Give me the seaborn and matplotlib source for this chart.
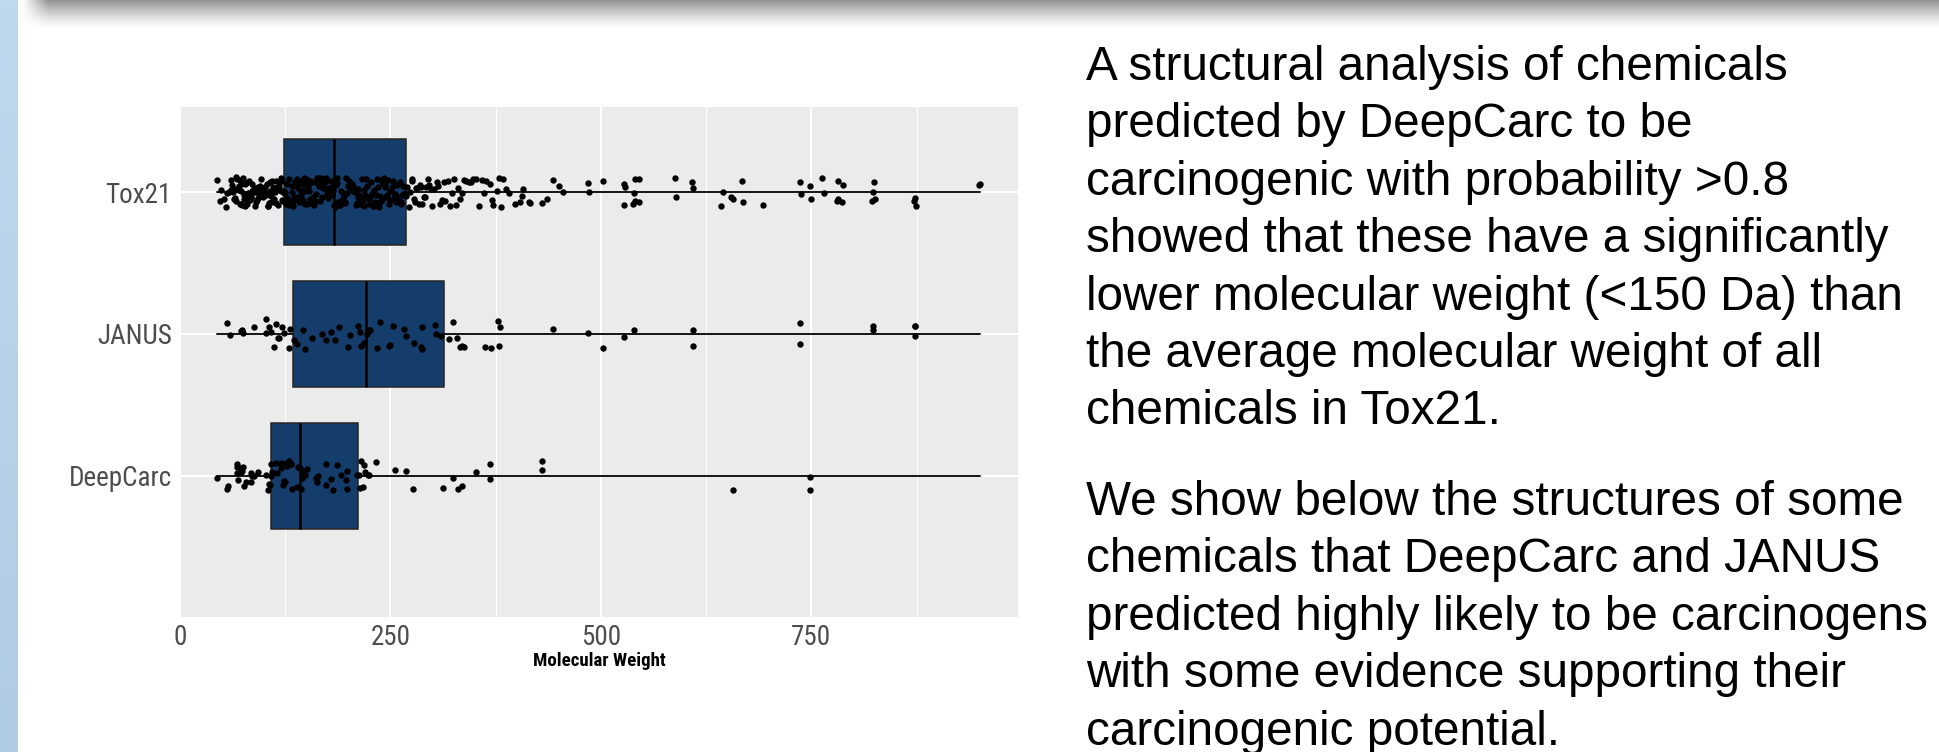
import numpy as np
import pandas as pd
import matplotlib
matplotlib.use("Agg")
import matplotlib.pyplot as plt
from matplotlib import font_manager as fm
from matplotlib.ticker import FixedLocator
import seaborn as sns

# ---------------- data ----------------
groups = ["Tox21", "JANUS", "DeepCarc"]
x_ticks = [0, 250, 500, 750]
x_minor = [125, 375, 625, 875]
x_label = "Molecular Weight"

tox21_mw = [
    43.5, 47, 49, 52, 55, 56, 58, 60.5, 62, 63, 65, 66.5, 67, 68, 69.5, 71, 72, 72.5, 74, 75,
    76, 77, 77.5, 79, 80, 81.5, 82, 83, 84, 85, 86, 86.5, 88, 89, 90, 90.5, 92, 93, 94, 95.5,
    96, 97, 98, 99, 99.5, 64, 70, 73, 78, 81, 87, 91, 94.5, 97.5,
    61, 66, 71.5, 76.5, 80.5, 84.5, 88.5, 92.5, 96.5,
    101, 102, 103.5, 104, 105, 106, 107, 108.5, 109, 110, 111, 112, 113, 114, 115, 116.5, 117,
    118, 119, 120, 121, 122, 123, 124, 125.5, 126, 127, 128, 129, 130, 131, 132.5, 133, 134,
    136, 137, 138, 139, 140, 141, 142, 143.5, 144, 145, 146, 147, 148, 149, 150,
    103, 108, 111.5, 116, 121.5, 127.5, 135, 140.5, 146.5,
    101.5, 106.5, 110.5, 114.5, 119.5, 124.5, 129.5, 134.5, 138.5, 144.5, 148.5,
    151, 152, 153.5, 155, 156, 157, 158, 160, 161, 162, 163, 165, 166, 167, 168, 170, 171, 172,
    174, 175, 176, 178, 179, 180, 181, 183, 184, 185, 187, 188, 189, 191, 192, 193, 195, 196,
    197, 199, 200, 154, 159, 164, 169, 173, 177, 182, 186, 194, 198,
    152.5, 157.5, 162.5, 167.5, 172.5, 178.5, 184.5, 190, 196.5,
    201, 202, 204, 205, 206, 208, 209, 211, 212, 213, 215, 216, 217, 219, 220, 222, 223, 224,
    226, 227, 229, 230, 231, 233, 234, 236, 237, 238, 240, 241, 243, 244, 246, 247, 248, 250,
    251, 253, 254, 256, 257, 258, 260, 261, 263, 264, 265, 267, 268,
    203, 210, 218, 225, 232, 239, 245, 252, 259, 266,
    207, 214, 221, 228, 235, 242, 249, 255, 262, 267.5,
    270, 272, 275, 276, 278, 280, 282, 284, 286, 288, 290, 292, 294, 296, 299, 302, 305, 306,
    309, 313, 315, 318, 321, 323, 326, 328, 330, 333, 335, 337, 340, 343, 346, 348, 351, 355,
    359, 361, 363, 368, 370, 372, 377, 379, 381, 384, 387, 391, 398, 404, 406, 408, 414, 416,
    430, 436, 443, 450, 455, 273, 279, 285, 291, 298, 311,
    485, 486, 503, 527, 527, 529, 538, 539, 540, 541, 545, 545, 588, 589, 608, 609, 643, 645,
    655, 657, 668, 669, 692, 736, 738, 748, 749, 763, 765, 780, 781, 782, 786, 787, 822, 823,
    824, 825, 872, 873, 874, 949, 950,
]
janus_mw = [
    56, 59, 72, 74, 75, 87.5, 102, 102.5, 106, 108, 112, 114, 116, 117.5, 121.5, 123.5, 129,
    131, 136, 139, 146, 148, 157, 169, 173, 179, 184, 189, 199, 202, 212, 214, 215, 218, 222,
    224, 225.5, 234, 238, 248, 250, 253, 266, 268, 278, 286, 287.5, 287.5, 303, 304, 310, 319,
    324, 329, 332, 335, 337, 362, 369, 378, 378.5, 380, 443, 485, 503, 527, 539.5, 609, 609,
    737, 737, 823.5, 823.5, 872.6, 872.6, 872.6,
]
deepcarc_mw = [
    43.5, 55.4, 57, 67.3, 67.5, 68, 68.9, 72, 72.8, 74, 75.1, 75.9, 77.9, 83.9, 84.7, 85.9,
    87.9, 92.6, 101.7, 104.4, 105.6, 106.8, 107.6, 108.4, 109.6, 113.6, 115.5, 119.5, 120.3,
    122.7, 123.5, 124.7, 125.4, 127.4, 129.4, 131.4, 132.2, 133.3, 139.3, 140.5, 142.9, 143.7,
    144.9, 146.1, 148.9, 150.8, 161, 163, 164.2, 172.9, 173.7, 178.8, 182, 186, 191.5, 196.6,
    197.8, 198.6, 210.5, 212.4, 213.6, 215.2, 216.8, 218.3, 219.5, 223.1, 224.7, 233, 255.9,
    268.2, 276.9, 312.1, 323.9, 329.9, 335, 351.7, 367.8, 367.8, 430, 430, 656.6, 748.3, 748.3,
]

# box summaries as drawn in the reference (Tox21, JANUS, DeepCarc)
box_q1 = [123, 133.7, 108.4]
box_med = [182.8, 220.7, 142.4]
box_q3 = [268, 314, 212]
whisk_lo = [43.5, 43.5, 43.5]
whisk_hi = [950, 950, 950]

para1 = [
    "A structural analysis of chemicals",
    "predicted by DeepCarc to be",
    "carcinogenic with probability >0.8",
    "showed that these have a significantly",
    "lower molecular weight (<150 Da) than",
    "the average molecular weight of all",
    "chemicals in Tox21.",
]
para2 = [
    "We show below the structures of some",
    "chemicals that DeepCarc and JANUS",
    "predicted highly likely to be carcinogens",
    "with some evidence supporting their",
    "carcinogenic potential.",
]

# ---------------- style / fonts ----------------
sns.set_theme(style="white")
names = {f.name for f in fm.fontManager.ttflist}


def pick(*cands):
    for c in cands:
        if c in names:
            return c
    return "DejaVu Sans"


body = pick("Liberation Sans", "Arial", "DejaVu Sans")
narrow = pick("Liberation Sans Narrow", "Roboto Condensed", body)
is_narrow = narrow != body
plt.rcParams["font.family"] = [body, "DejaVu Sans"]

tick_fs = 19.5 if is_narrow else 16.5
xlab_fs = 13.6 if is_narrow else 11.5

W, H = 1940, 752
fig = plt.figure(figsize=(W / 100, H / 100), dpi=100)
fig.patch.set_facecolor("white")

# ---------------- slide background (blue stripe + top shadow) ----------------
bg = fig.add_axes([0, 0, 1, 1], zorder=-10)
yy = np.arange(H)[:, None]
xx = np.arange(W)[None, :]
shade = (np.clip(1 - yy / 28.0, 0, 1) ** 1.3) * 0.42
fade = np.clip((xx - 22) / 26.0, 0, 1)
img = np.ones((H, W, 3)) - (shade * fade)[..., None]
t = np.linspace(0, 1, H)[:, None]
blue_top = np.array([191, 216, 238]) / 255.0
blue_bot = np.array([176, 203, 228]) / 255.0
col = blue_top * (1 - t) + blue_bot * t
img[:, :18, :] = col[:, None, :]
bg.imshow(img, extent=[0, 1, 0, 1], aspect="auto", interpolation="bilinear")
bg.set_xlim(0, 1)
bg.set_ylim(0, 1)
bg.axis("off")

# ---------------- chart ----------------
L, R, T, B = 180, 1017.7, 107.3, 617.3
ax = fig.add_axes([L / W, 1 - B / H, (R - L) / W, (B - T) / H])
ax.set_facecolor("#EBEBEB")

stats = [
    dict(label=g, q1=a, med=m, q3=b, whislo=lo, whishi=hi)
    for g, a, m, b, lo, hi in zip(groups, box_q1, box_med, box_q3, whisk_lo, whisk_hi)
]
bxp_kw = dict(
    positions=[0, 1, 2], widths=0.75, patch_artist=True, showfliers=False, showcaps=False,
    manage_ticks=False,
    boxprops=dict(facecolor="#143D6B", edgecolor="#262626", linewidth=1.1),
    medianprops=dict(color="black", linewidth=1.8),
    whiskerprops=dict(color="#141414", linewidth=1.4),
)
try:
    ax.bxp(stats, orientation="horizontal", **bxp_kw)
except TypeError:
    ax.bxp(stats, vert=False, **bxp_kw)

df = pd.DataFrame({
    "group": ["Tox21"] * len(tox21_mw) + ["JANUS"] * len(janus_mw) + ["DeepCarc"] * len(deepcarc_mw),
    "mw": tox21_mw + janus_mw + deepcarc_mw,
})
np.random.seed(7)
sns.stripplot(data=df, x="mw", y="group", order=groups, color="black", size=4.6,
              jitter=0.105, linewidth=0, ax=ax, zorder=3)

ax.set_ylim(3.0, -0.6)
ax.set_xlim(0, 995)
ax.xaxis.set_major_locator(FixedLocator(x_ticks))
ax.xaxis.set_minor_locator(FixedLocator(x_minor))
ax.set_xticklabels([str(v) for v in x_ticks])
ax.set_yticks(range(len(groups)))
ax.set_yticklabels(groups)
ax.grid(True, which="major", axis="both", color="white", linewidth=1.4)
ax.grid(True, which="minor", axis="x", color="white", linewidth=0.7)
ax.set_axisbelow(True)
for sp in ax.spines.values():
    sp.set_visible(False)
ax.tick_params(axis="both", which="major", length=3, width=1.0, color="#333333",
               labelcolor="#4D4D4D", labelsize=tick_fs)
ax.tick_params(axis="x", which="major", pad=1.5)
ax.tick_params(axis="y", which="major", pad=3.0)
ax.tick_params(which="minor", length=0)
for lab in ax.get_xticklabels() + ax.get_yticklabels():
    lab.set_fontfamily(narrow)
ax.set_ylabel("")
ax.set_xlabel(x_label, fontsize=xlab_fs, fontweight="bold", color="black", family=narrow)
ax.xaxis.set_label_coords(0.5, -(666 - B) / (B - T))
ax.xaxis.label.set_va("baseline")

# ---------------- right-hand text ----------------
tx = 1086 / W
first1, first2, step = 80, 515, 57.4
for i, line in enumerate(para1):
    fig.text(tx, 1 - (first1 + i * step) / H, line, fontsize=34.3, family=body,
             color="black", ha="left", va="baseline")
for i, line in enumerate(para2):
    fig.text(tx, 1 - (first2 + i * step) / H, line, fontsize=34.3, family=body,
             color="black", ha="left", va="baseline")

fig.savefig("out.png", dpi=100, facecolor="white")
